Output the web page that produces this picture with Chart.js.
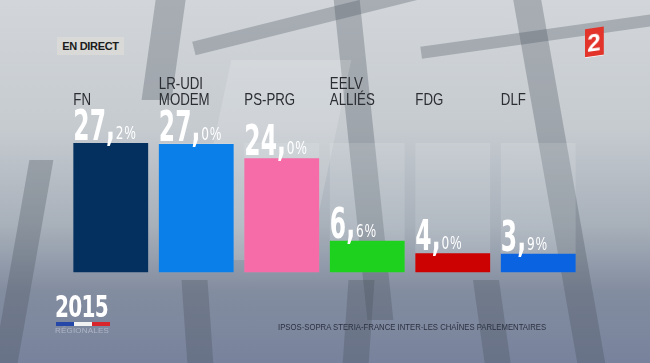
<!DOCTYPE html>
<html>
<head>
<meta charset="utf-8">
<script src="https://cdn.jsdelivr.net/npm/chart.js@4.4.0/dist/chart.umd.min.js"></script>
<style>
  html, body { margin: 0; padding: 0; }
  #scene {
    position: relative; width: 650px; height: 363px; overflow: hidden;
    background: linear-gradient(180deg, #d2d6da 0%, #c6cbd0 35%, #a8b0ba 62%, #838da0 80%, #78829c 100%);
    font-family: "Liberation Sans", Arial, sans-serif;
  }
  .beam { position: absolute; background: rgba(70, 78, 90, 0.3); }
  .glass { position: absolute; background: rgba(255, 255, 255, 0.16); }
  #chart { position: absolute; left: 0; top: 0; }
  #live {
    position: absolute; left: 57px; top: 37px; width: 67px; height: 18px;
    background: #d9d9d7; color: #1b1b1b; font: bold 11px "Liberation Sans", Arial, sans-serif;
    line-height: 18px; text-align: center; letter-spacing: -0.3px;
  }
  #logo2 {
    position: absolute; left: 585px; top: 28px; width: 18px; height: 28px;
    background: #e3342c; color: #fff; font: bold 24px "Liberation Sans", Arial, sans-serif;
    line-height: 29px; text-align: center; transform: skewY(-8deg);
  }
  #year {
    position: absolute; left: 55px; top: 288px; color: #fff;
    font: bold 31px "DejaVu Sans Condensed", sans-serif; transform: scaleX(0.72); transform-origin: left top;
    letter-spacing: -1px;
  }
  #flag { position: absolute; left: 56px; top: 322px; width: 54px; height: 4px;
    background: linear-gradient(90deg, #2547a8 0 33%, #f2f2f2 33% 66%, #d8262c 66% 100%); }
  #reg { position: absolute; left: 55px; top: 326px; color: #aeb6c8; font: 8px "Liberation Sans", Arial, sans-serif;
    letter-spacing: 0.2px; }
  #source { position: absolute; left: 278px; top: 322px; color: #2b3140;
    font: 9px "Liberation Sans Narrow", "Liberation Sans", Arial, sans-serif; transform: scaleX(0.86); transform-origin: left top; white-space: nowrap; }
</style>
</head>
<body>
<div id="scene">
  <!-- décor du plateau -->
  <div class="beam" style="left:150px;top:-20px;width:30px;height:120px;transform:skewX(-8deg);"></div>
  <div class="beam" style="left:350px;top:-10px;width:26px;height:330px;transform:skewX(6deg);"></div>
  <div class="beam" style="left:545px;top:-10px;width:28px;height:380px;transform:skewX(10deg);"></div>
  <div class="beam" style="left:190px;top:10px;width:260px;height:14px;transform:rotate(-14deg);"></div>
  <div class="beam" style="left:420px;top:30px;width:240px;height:12px;transform:rotate(-8deg);"></div>
  <div class="beam" style="left:10px;top:160px;width:24px;height:220px;transform:skewX(-10deg);"></div>
  <div class="beam" style="left:185px;top:280px;width:26px;height:100px;transform:skewX(4deg);"></div>
  <div class="beam" style="left:345px;top:280px;width:26px;height:100px;transform:skewX(-4deg);"></div>
  <div class="beam" style="left:480px;top:280px;width:26px;height:100px;transform:skewX(8deg);"></div>
  <div class="glass" style="left:210px;top:60px;width:120px;height:200px;transform:skewX(-12deg);"></div>
  <canvas id="chart" width="650" height="363"></canvas>
  <div id="live">EN DIRECT</div>
  <div id="logo2">2</div>
  <div id="year">2015</div>
  <div id="flag"></div>
  <div id="reg">RÉGIONALES</div>
  <div id="source">IPSOS-SOPRA STERIA-FRANCE INTER-LES CHAÎNES PARLEMENTAIRES</div>
</div>
<script>
// données
var parties = [["FN"], ["LR-UDI", "MODEM"], ["PS-PRG"], ["EELV", "ALLIÉS"], ["FDG"], ["DLF"]];
var scores = [27.2, 27.0, 24.0, 6.6, 4.0, 3.9];
var partyColors = ["#03305f", "#0b7fe9", "#f56ca8", "#1ed11e", "#cc0202", "#0a63e0"];

var maxScore = Math.max.apply(null, scores);
var tracks = scores.map(function() { return maxScore; });

// texte compressé horizontalement
function narrowText(ctx, txt, x, y, sx) {
    ctx.save();
    ctx.translate(x, y);
    ctx.scale(sx, 1);
    ctx.fillText(txt, 0, 0);
    var w = ctx.measureText(txt).width * sx;
    ctx.restore();
    return w;
}

var labelPlugin = {
    id: 'labels',
    afterDatasetsDraw: function(chart) {
        var ctx = chart.ctx;
        var meta = chart.getDatasetMeta(1);
        ctx.save();
        ctx.textBaseline = 'alphabetic';
        ctx.textAlign = 'left';
        meta.data.forEach(function(bar, i) {
            var left = bar.x - bar.width / 2;
            // nom du parti
            ctx.fillStyle = '#2b2e33';
            ctx.font = '17px "Liberation Sans", Arial, sans-serif';
            var lines = parties[i];
            for (var j = 0; j < lines.length; j++) {
                var yy = 105 - (lines.length - 1 - j) * 16;
                narrowText(ctx, lines[j], left, yy, 0.78);
            }
            // valeur
            var parts = scores[i].toFixed(1).split('.');
            var base = bar.y - 3;
            ctx.fillStyle = '#ffffff';
            ctx.font = 'bold 42px "DejaVu Sans Condensed", sans-serif';
            var x = left;
            x += narrowText(ctx, parts[0], x, base, 0.62);
            x += narrowText(ctx, ',', x, base, 0.62);
            ctx.font = '18px "DejaVu Sans Condensed", sans-serif';
            x += narrowText(ctx, parts[1], x + 1, base - 1, 0.75) + 1;
            ctx.font = '18px "Liberation Sans", Arial, sans-serif';
            narrowText(ctx, '%', x + 1, base - 1, 0.7);
        });
        ctx.restore();
    }
};

new Chart(document.getElementById('chart'), {
    type: 'bar',
    data: {
        labels: parties,
        datasets: [{
            data: tracks,
            backgroundColor: 'rgba(235, 240, 245, 0.16)',
            categoryPercentage: 1,
            barPercentage: 0.875,
            grouped: false,
            order: 2
        }, {
            data: scores,
            backgroundColor: partyColors,
            categoryPercentage: 1,
            barPercentage: 0.875,
            grouped: false,
            order: 1
        }]
    },
    options: {
        responsive: false,
        animation: false,
        layout: { padding: { left: 68, right: 69, top: 143, bottom: 88 } },
        scales: {
            x: { display: false },
            y: { display: false, min: -0.6, max: 27.2 }
        },
        plugins: { legend: { display: false }, tooltip: { enabled: false } }
    },
    plugins: [labelPlugin]
});
</script>
</body>
</html>
